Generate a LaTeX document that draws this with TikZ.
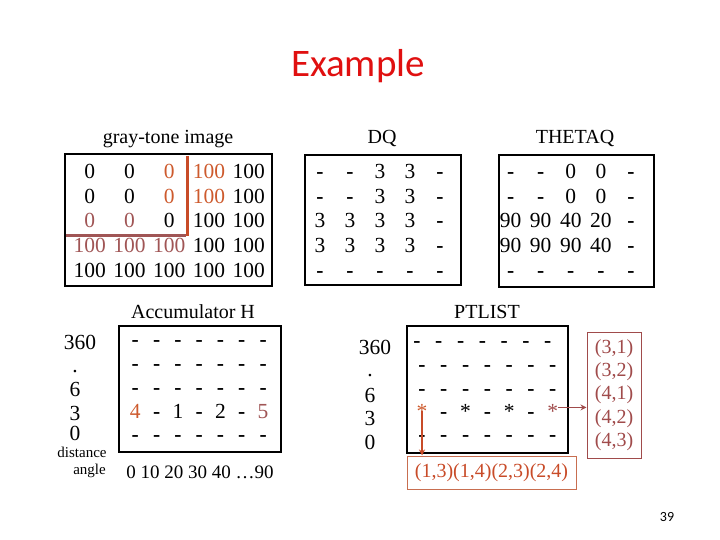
\documentclass[tikz,border=0pt]{standalone}
\usepackage{fontspec}
\setmainfont{Liberation Serif}
\newfontfamily\slidefont{Carlito}
\usepackage{tikz}
\usetikzlibrary{positioning,arrows.meta}
\definecolor{hot}{RGB}{205,90,45}
\definecolor{dusty}{RGB}{160,85,85}
\definecolor{brick}{RGB}{200,75,40}
\definecolor{wine}{RGB}{160,75,75}
\definecolor{peach}{RGB}{200,110,80}
\definecolor{slidered}{RGB}{224,16,16}
\newcommand\blank{\textbf{-}}

\begin{document}
\begin{tikzpicture}[x=1pt,y=-1pt,
  cell/.style={inner sep=0pt,anchor=base,font=\fontsize{21.5}{24}\selectfont},
  head/.style={inner sep=0pt,anchor=base,font=\fontsize{20}{22}\selectfont},
  small/.style={inner sep=0pt,font=\fontsize{15}{17}\selectfont},
  frame/.style={draw,line width=1.2pt},
  hit/.style={-{Stealth[length=6pt,width=6pt]},line width=1.5pt}]
  \useasboundingbox (0,0) rectangle (720,540);
  \node[anchor=base,inner sep=0pt,text=slidered,font=\slidefont\fontsize{39}{44}\selectfont] (title) at (358,77) {Example};

  % gray-tone image
  \node[head] (gtitle) at (168,144) {gray-tone image};
  \draw[frame] (65,154) rectangle (272,286);
  \foreach \row [count=\r] in {{0/black,0/black,0/hot,100/hot,100/black},
      {0/black,0/black,0/hot,100/hot,100/black},
      {0/dusty,0/dusty,0/black,100/black,100/black},
      {100/dusty,100/dusty,100/dusty,100/black,100/black},
      {100/black,100/black,100/black,100/black,100/black}}
    \foreach \v/\col [count=\c] in \row
      \node[cell,text=\col] (g\r\c) at ({50+39.75*\c},{154.5+24.5*\r}) {\v};
  \draw[brick,line width=3pt] (187,156) -- (187,236);
  \draw[dusty,line width=3pt] (66,235) -- (186,235);

  % DQ
  \node[head] (dqtitle) at (382,144) {DQ};
  \draw[frame] (305,155) rectangle (461,285);
  \foreach \row [count=\r] in {{\blank,\blank,3,3,\blank},{\blank,\blank,3,3,\blank},
      {3,3,3,3,\blank},{3,3,3,3,\blank},{\blank,\blank,\blank,\blank,\blank}}
    \foreach \v [count=\c] in \row
      \node[cell] (d\r\c) at ({290+30*\c},{154.5+24.5*\r}) {\v};

  % THETAQ
  \node[head] (ttitle) at (575,144) {THETAQ};
  \draw[frame] (499,155) rectangle (654,287);
  \foreach \row [count=\r] in {{\blank,\blank,0,0,\blank},{\blank,\blank,0,0,\blank},
      {90,90,40,20,\blank},{90,90,90,40,\blank},{\blank,\blank,\blank,\blank,\blank}}
    \foreach \v [count=\c] in \row
      \node[cell] (t\r\c) at ({480.5+30.1*\c},{154.5+24.5*\r}) {\v};

  % accumulator
  \node[head] (htitle) at (193,318) {Accumulator H};
  \draw[frame] (119,326) rectangle (281,452);
  \foreach \y [count=\r] in {346.5,370.5,394.5}
    \foreach \c in {1,...,7}
      \node[cell] (h\r\c) at ({114+21.3*\c},\y) {\blank};
  \foreach \v/\col [count=\c] in {4/hot,\blank/black,1/black,\blank/black,2/black,\blank/black,5/dusty}
    \node[cell,text=\col] (h4\c) at ({114+21.3*\c},418) {\v};
  \foreach \c in {1,...,7}
    \node[cell] (h5\c) at ({114+21.3*\c},441) {\blank};
  \node[cell] (hd1) at (80,349) {360};
  \node[cell] (hd2) at (75,372) {.};
  \node[cell] (hd3) at (75,396) {6};
  \node[cell] (hd4) at (75,420) {3};
  \node[cell] (hd5) at (75,440) {0};
  \node[small] (hdist) at (82,452) {distance};
  \node[small,anchor=east] (hang) at (106,471) {angle};
  \node[cell,font=\fontsize{19}{22}\selectfont] (haxis) at (200,478) {0 10 20 30 40 …90};

  % PTLIST
  \node[head] (ptitle) at (487,318) {PTLIST};
  \draw[frame] (407,326) rectangle (568,453);
  \foreach \c in {1,...,7}
    \node[cell] (p1\c) at ({395.2+21.8*\c},347.5) {\blank};
  \foreach \y [count=\r from 2] in {371.5,395.5}
    \foreach \c in {1,...,7}
      \node[cell] (p\r\c) at ({400.2+21.8*\c},\y) {\blank};
  \foreach \v/\col [count=\c] in {*/hot,\blank/black,*/black,\blank/black,*/black,\blank/black,*/wine}
    \node[cell,text=\col] (p4\c) at ({400.2+21.8*\c},418.5) {\v};
  \foreach \c in {1,...,7}
    \node[cell] (p5\c) at ({400.2+21.8*\c},441.5) {\blank};
  \node[cell] (pd1) at (375,354) {360};
  \node[cell] (pd2) at (370,376) {.};
  \node[cell] (pd3) at (370,402) {6};
  \node[cell] (pd4) at (370,425) {3};
  \node[cell] (pd5) at (370,449) {0};

  \node[draw=wine,line width=1pt,text=wine,align=center,inner sep=0pt,
    minimum width=54pt,minimum height=126pt,font=\fontsize{20}{23.3}\selectfont]
    (hits) at (614,395) {(3,1)\\(3,2)\\(4,1)\\(4,2)\\(4,3)};
  \node[draw=peach,line width=1pt,text=brick,inner sep=0pt,
    minimum width=169pt,minimum height=33pt,font=\fontsize{20}{22}\selectfont]
    (lst) at (491.5,472.5) {(1,3)(1,4)(2,3)(2,4)};
  \draw[hit,brick] (p41.center) -- (p41 |- lst.north);
  \draw[hit,wine] ([yshift=4pt]p47.east) -- ([yshift=4pt]p47.east -| hits.west);

  \node[inner sep=0pt,font=\slidefont\fontsize{14}{16}\selectfont] (pageno) at (667,517) {39};
\end{tikzpicture}
\end{document}
